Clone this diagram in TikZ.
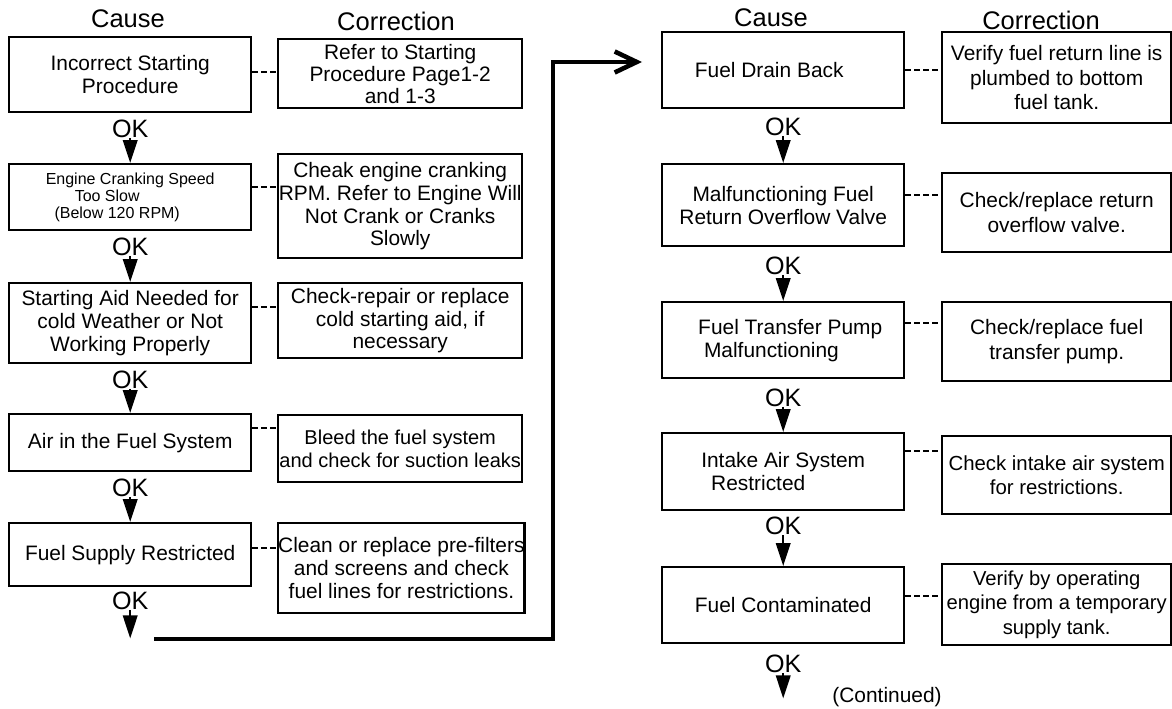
\documentclass[tikz,border=0pt]{standalone}
\usepackage{fontspec}
\setmainfont{Liberation Sans}
\usetikzlibrary{arrows.meta,positioning}

\begin{document}
\begin{tikzpicture}[
  x=0.02cm, y=-0.02cm,
  heading/.style={font=\fontsize{14.5}{16}\selectfont},
  cause/.style={
    draw,
    line width=1.4pt,
    anchor=north west,
    minimum width=4.84cm,
    inner sep=0pt,
    align=center,
    font=\fontsize{11.9}{13}\selectfont
  },
  remedy/.style={cause, minimum width=4.88cm},
  oklabel/.style={inner sep=0pt, font=\fontsize{14.3}{16}\selectfont},
  okarrow/.style={-{Triangle[length=0.46cm,width=0.29cm]},line width=1.2pt},
  link/.style={line width=1pt,dash pattern=on 3.4pt off 1.7pt},
  jump/.style={-{Straight Barb[length=0.44cm,width=0.42cm]},line width=2.6pt}
]
  \useasboundingbox (0,0) rectangle (1172,709);
  \fill[white] (0,0) rectangle (1172,709);

  % first column
  \node[heading] (causeA) at (128,19) {Cause};
  \node[heading] (corrA) at (396,21) {Correction};

  \node[cause,minimum height=1.5cm] (l1) at (8,36) {Incorrect Starting\\Procedure};
  \node[cause,minimum height=1.32cm,font=\fontsize{9.1}{9.6}\selectfont] (l2) at (8,163) {Engine Cranking Speed\\Too Slow\hspace{0.92cm}\mbox{}\\(Below 120 RPM)\hspace{0.52cm}\mbox{}};
  \node[cause,minimum height=1.6cm] (l3) at (8,282) {Starting Aid Needed for\\cold Weather or Not\\Working Properly};
  \node[cause,minimum height=1.14cm] (l4) at (8,413) {Air in the Fuel System};
  \node[cause,minimum height=1.26cm] (l5) at (8,522) {Fuel Supply Restricted};

  \node[remedy,minimum height=1.38cm,font=\fontsize{11.9}{12.5}\selectfont] (c1) at (277,38) {Refer to Starting\\Procedure Page1-2\\and 1-3};
  \node[remedy,minimum height=2.08cm] (c2) at (277,153) {Cheak engine cranking\\RPM. Refer to Engine Will\\Not Crank or Cranks\\Slowly};
  \node[remedy,minimum height=1.5cm] (c3) at (277,282) {Check-repair or replace\\cold starting aid, if\\necessary};
  \node[remedy,minimum height=1.34cm,font=\fontsize{11.4}{13}\selectfont] (c4) at (277,414) {Bleed the fuel system\\and check for suction leaks};
  \node[remedy,minimum height=1.8cm] (c5) at (277,522) {Clean or replace pre-filters\\and screens and check\\fuel lines for restrictions.};

  \node[oklabel,below=0.12cm of l1] (ok1) {OK};
  \node[oklabel,below=0.12cm of l2] (ok2) {OK};
  \node[oklabel,below=0.12cm of l3] (ok3) {OK};
  \node[oklabel,below=0.12cm of l4] (ok4) {OK};
  \node[oklabel,below=0.08cm of l5] (ok5) {OK};
  \coordinate[below=0.57cm of ok5] (endA);

  \draw[okarrow] (ok1) -- (l2);
  \draw[okarrow] (ok2) -- (l3);
  \draw[okarrow] (ok3) -- (l4);
  \draw[okarrow] (ok4) -- (l5);
  \draw[okarrow] (ok5) -- (endA);

  \draw[link] (l1.east |- 0,72) -- (c1.west |- 0,72);
  \draw[link] (l2.east |- 0,187) -- (c2.west |- 0,187);
  \draw[link] (l3.east |- 0,307) -- (c3.west |- 0,307);
  \draw[link] (l4.east |- 0,428) -- (c4.west |- 0,428);
  \draw[link] (l5.east |- 0,548) -- (c5.west |- 0,548);

  % over to the second column
  \coordinate (jumpstart) at (154,639);
  \coordinate (jumpend) at (642,62);
  \draw[jump] (jumpstart) -- ++(399,0) |- (jumpend);

  % second column
  \node[heading] (causeB) at (771,18) {Cause};
  \node[heading] (corrB) at (1041,20) {Correction};

  \node[cause,minimum height=1.52cm] (r1) at (661,31) {Fuel Drain Back\hspace{0.56cm}\mbox{}};
  \node[cause,minimum height=1.64cm] (r2) at (661,163) {Malfunctioning Fuel\\Return Overflow Valve};
  \node[cause,minimum height=1.52cm,align=left] (r3) at (661,301) {\hspace{0.28cm}Fuel Transfer Pump\\\hspace{0.28cm}\ Malfunctioning};
  \node[cause,minimum height=1.54cm] (r4) at (661,432) {Intake Air System\\Restricted\hspace{1cm}\mbox{}};
  \node[cause,minimum height=1.52cm] (r5) at (661,566) {Fuel Contaminated};

  \node[remedy,minimum width=4.58cm,minimum height=1.82cm,font=\fontsize{11.9}{13.9}\selectfont] (rc1) at (941,31) {Verify fuel return line is\\plumbed to bottom\\fuel tank.};
  \node[remedy,minimum width=4.58cm,minimum height=1.58cm,font=\fontsize{11.9}{13.9}\selectfont] (rc2) at (941,172) {Check/replace return\\overflow valve.};
  \node[remedy,minimum width=4.58cm,minimum height=1.58cm,font=\fontsize{11.9}{13.9}\selectfont] (rc3) at (941,301) {Check/replace fuel\\transfer pump.};
  \node[remedy,minimum width=4.58cm,minimum height=1.56cm,font=\fontsize{11.6}{13.9}\selectfont] (rc4) at (941,435) {Check intake air system\\for restrictions.};
  \node[remedy,minimum width=4.58cm,minimum height=1.62cm,font=\fontsize{11.5}{13.9}\selectfont] (rc5) at (941,563) {Verify by operating\\engine from a temporary\\supply tank.};

  \node[oklabel,below=0.16cm of r1] (ok6) {OK};
  \node[oklabel,below=0.18cm of r2] (ok7) {OK};
  \node[oklabel,below=0.18cm of r3] (ok8) {OK};
  \node[oklabel,below=0.11cm of r4] (ok9) {OK};
  \node[oklabel,below=0.2cm of r5] (ok10) {OK};
  \coordinate[below=0.51cm of ok10] (endB);

  \draw[okarrow] (ok6) -- (r2);
  \draw[okarrow] (ok7) -- (r3);
  \draw[okarrow] (ok8) -- (r4);
  \draw[okarrow] (ok9) -- (r5);
  \draw[okarrow] (ok10) -- (endB);

  \draw[link] (r1.east |- 0,70) -- (rc1.west |- 0,70);
  \draw[link] (r2.east |- 0,195) -- (rc2.west |- 0,195);
  \draw[link] (r3.east |- 0,323) -- (rc3.west |- 0,323);
  \draw[link] (r4.east |- 0,451) -- (rc4.west |- 0,451);
  \draw[link] (r5.east |- 0,596) -- (rc5.west |- 0,596);

  \node[font=\fontsize{11.9}{13}\selectfont] (cont) at (887,697) {(Continued)};
\end{tikzpicture}
\end{document}
